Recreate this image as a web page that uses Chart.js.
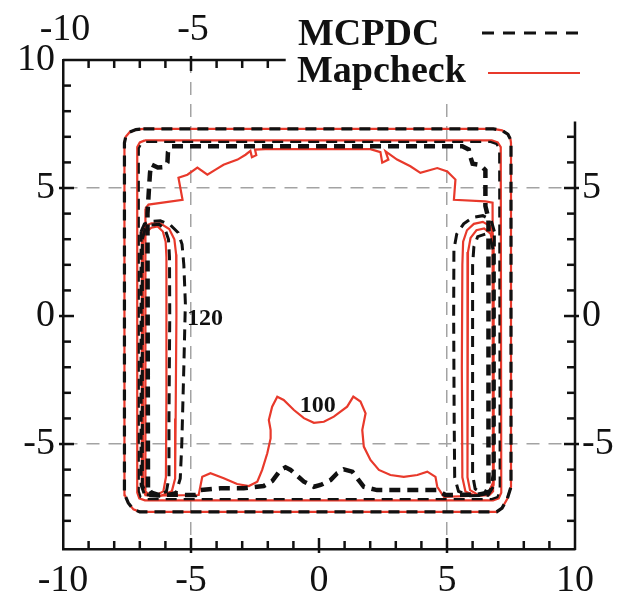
<!DOCTYPE html>
<html>
<head>
<meta charset="utf-8">
<title>MCPDC vs Mapcheck</title>
<script src="https://cdn.jsdelivr.net/npm/chart.js@4.4.1/dist/chart.umd.min.js"></script>
<style>
  html, body { margin: 0; padding: 0; background: #fff; }
  #wrap { width: 622px; height: 601px; }
</style>
</head>
<body>
<div id="wrap"><canvas id="chart" width="622" height="601"></canvas></div>
<script>
// ========== 1) data (x, y in cm) ==========
const xTicks = [-10, -5, 0, 5, 10];
const yTicks = [-5, 0, 5, 10];
const topTicks = [-10, -5];
const rightTicks = [-5, 0, 5];

// outer contour, both systems agree
const mapcheckOuter = [
  [-6.86, 7.31], [6.81, 7.31], [7.15, 7.25], [7.38, 7.1], [7.48, 6.9], [7.5, 6.76],
  [7.5, -6.67], [7.35, -7.15], [7.15, -7.5], [6.94, -7.65],
  [-7.0, -7.65], [-7.25, -7.55], [-7.45, -7.3], [-7.58, -7.0], [-7.6, -6.86],
  [-7.6, 6.76], [-7.55, 7.0], [-7.4, 7.18], [-7.15, 7.28], [-6.86, 7.31]
];
const mcpdcOuter = [
  [-6.86, 7.31], [6.81, 7.31], [7.15, 7.25], [7.38, 7.1], [7.48, 6.9], [7.5, 6.76],
  [7.5, -6.67], [7.35, -7.15], [7.15, -7.5], [6.94, -7.65],
  [-7.0, -7.65], [-7.25, -7.55], [-7.45, -7.3], [-7.58, -7.0], [-7.6, -6.86],
  [-7.6, 6.76], [-7.55, 7.0], [-7.4, 7.18], [-7.15, 7.28], [-6.86, 7.31]
];

// penumbra edge
const mapcheckEdge = [
  [-6.8, 6.86], [6.75, 6.86], [6.98, 6.78], [7.1, 6.6], [7.12, -6.9], [7.02, -7.12], [6.8, -7.2],
  [-6.8, -7.2], [-7.02, -7.12], [-7.1, -6.9], [-7.1, 6.6], [-7.0, 6.78], [-6.8, 6.86]
];
const mcpdcEdge = [
  [-6.75, 6.8], [6.7, 6.8], [6.93, 6.72], [7.04, 6.55], [7.06, -6.85], [6.97, -7.07], [6.75, -7.15],
  [-6.75, -7.15], [-6.97, -7.07], [-7.04, -6.85], [-7.04, 6.55], [-6.95, 6.72], [-6.75, 6.8]
];

// 100 contour
const mapcheck100 = [
  [-6.78, 4.2], [-6.66, 4.35], [-5.33, 4.54], [-5.49, 5.4], [-5.14, 5.52], [-4.75, 5.8], [-4.36, 5.52],
  [-4.04, 5.72], [-3.73, 5.91], [-3.18, 6.11], [-2.87, 6.3], [-2.68, 6.45], [-2.62, 6.2], [-2.45, 6.28],
  [-2.5, 6.5], [-2.1, 6.52], [2.01, 6.52], [2.4, 6.4], [2.47, 5.99], [2.71, 6.11], [2.6, 6.43],
  [3.05, 6.11], [3.57, 5.85], [3.96, 5.59], [4.62, 5.78], [5.01, 5.65], [5.33, 5.33], [5.27, 4.54],
  [6.5, 4.48], [6.78, 4.43], [6.8, -6.85], [6.65, -7.0], [4.88, -7.06], [4.62, -6.67], [4.55, -6.28],
  [4.23, -6.08], [3.84, -6.21], [3.31, -6.28], [2.79, -6.21], [2.34, -6.01], [2.01, -5.62], [1.75, -5.1],
  [1.69, -4.45], [1.82, -3.8], [1.62, -3.34], [1.34, -3.15], [1.1, -3.54], [0.58, -3.93], [0.19, -4.13],
  [-0.2, -4.17], [-0.59, -3.99], [-0.98, -3.67], [-1.38, -3.28], [-1.63, -3.15], [-1.83, -3.54],
  [-1.96, -4.06], [-1.89, -4.45], [-1.89, -4.78], [-2.02, -5.36], [-2.22, -6.01], [-2.41, -6.47],
  [-2.74, -6.64], [-3.2, -6.56], [-3.72, -6.34], [-4.24, -6.14], [-4.56, -6.28], [-4.7, -6.99],
  [-6.6, -7.02], [-6.78, -6.85], [-6.78, 4.2]
];
const mcpdc100 = [
  [-6.68, -6.7], [-6.7, 4.0], [-6.64, 5.0], [-6.6, 5.6], [-6.55, 5.92], [-6.3, 5.8], [-6.05, 5.82],
  [-5.92, 6.0], [-5.9, 6.4], [-5.75, 6.63], [5.6, 6.63], [5.85, 6.5], [5.92, 6.2], [6.0, 5.95],
  [6.3, 5.9], [6.5, 5.7], [6.5, 4.3], [6.62, 3.8], [6.62, -6.7], [6.5, -6.92], [6.2, -6.98],
  [4.94, -6.99], [4.62, -6.8], [3.31, -6.8], [2.27, -6.8], [1.75, -6.67], [1.55, -6.41], [1.3, -6.08],
  [0.97, -5.99], [0.71, -6.14], [0.45, -6.41], [0.06, -6.6], [-0.2, -6.67], [-0.59, -6.47],
  [-1.11, -6.01], [-1.31, -5.91], [-1.5, -6.01], [-1.82, -6.44], [-2.16, -6.64], [-2.94, -6.73],
  [-3.85, -6.73], [-4.63, -6.8], [-4.82, -6.99], [-6.3, -6.98], [-6.55, -6.9], [-6.68, -6.7]
];

// horns along the left and right edges (110 / 120)
const mapcheckHornL1 = [
  [-6.87, 2.9], [-6.75, 3.28], [-6.55, 3.45], [-6.3, 3.5], [-6.1, 3.3], [-5.99, 2.9], [-5.96, 2.3],
  [-5.95, 0], [-5.97, -3], [-5.98, -6.3], [-6.08, -6.85], [-6.4, -7.02], [-6.78, -6.95], [-6.87, -6.6], [-6.87, 2.9]
];
const mcpdcHornL1 = [
  [-6.9, 3.0], [-6.8, 3.38], [-6.55, 3.55], [-6.25, 3.58], [-6.02, 3.4], [-5.88, 3.0], [-5.84, 2.3],
  [-5.83, 0], [-5.86, -4], [-5.86, -6.3], [-5.96, -6.85], [-6.3, -7.02], [-6.75, -6.98], [-6.9, -6.6], [-6.9, 3.0]
];
const mapcheckHornL2 = [
  [-6.92, 3.2], [-6.82, 3.5], [-6.55, 3.62], [-6.2, 3.62], [-5.85, 3.4], [-5.65, 3.0], [-5.58, 2.4],
  [-5.57, 0], [-5.6, -4], [-5.62, -6.35], [-5.75, -6.85], [-6.2, -7.03], [-6.78, -7.0], [-6.92, -6.6], [-6.92, 3.2]
];
const mcpdcHornL2 = [
  [-6.95, 3.3], [-6.82, 3.6], [-6.55, 3.7], [-6.2, 3.72], [-5.8, 3.55], [-5.5, 3.25], [-5.35, 2.8],
  [-5.28, 2.0], [-5.22, 0.5], [-5.28, -2], [-5.36, -5], [-5.42, -6.35], [-5.58, -6.88], [-6.1, -7.04],
  [-6.8, -7.02], [-6.95, -6.6], [-6.95, 3.3]
];
const mcpdcHornR1 = [
  [6.8, 2.6], [6.7, 3.0], [6.5, 3.2], [6.2, 3.1], [6.05, 2.7], [6.0, 2.0], [6.0, -6.2], [6.1, -6.75],
  [6.4, -6.95], [6.7, -6.8], [6.8, -6.2], [6.8, 2.6]
];
const mapcheckHornR1 = [
  [6.8, 2.8], [6.7, 3.22], [6.45, 3.42], [6.15, 3.35], [5.92, 3.05], [5.82, 2.5], [5.8, 0], [5.8, -6.3],
  [5.9, -6.8], [6.2, -6.98], [6.6, -6.95], [6.8, -6.5], [6.8, 2.8]
];
const mapcheckHornR2 = [
  [6.82, 3.0], [6.7, 3.5], [6.4, 3.68], [6.05, 3.6], [5.78, 3.35], [5.63, 2.9], [5.6, 2.0], [5.58, -2],
  [5.6, -6.3], [5.72, -6.85], [6.1, -7.02], [6.6, -6.98], [6.82, -6.6], [6.82, 3.0]
];
const mcpdcHornR2 = [
  [6.85, 3.3], [6.72, 3.75], [6.4, 3.92], [6.0, 3.85], [5.65, 3.6], [5.38, 3.2], [5.27, 2.6], [5.26, 0],
  [5.28, -4], [5.3, -6.3], [5.45, -6.85], [5.9, -7.02], [6.6, -7.0], [6.85, -6.6], [6.85, 3.3]
];

// contour value labels
const labelText = ['120', '100'];
const labelX = [-4.45, -0.05];
const labelY = [-0.1, -3.5];

// ========== 2) styles ==========
const SERIF = '"Liberation Serif", "Times New Roman", serif';
const RED = '#e8392b';
const BLACK = '#111';
const DASH = [11, 7];

const toPoints = arr => arr.map(([x, y]) => ({ x, y }));

const redLine = (label, data) => ({
  label, data: toPoints(data), showLine: true, borderColor: RED, borderWidth: 2.2,
  pointRadius: 0, tension: 0, order: 1
});
const blackLine = (label, data, width) => ({
  label, data: toPoints(data), showLine: true, borderColor: BLACK, borderWidth: width || 3,
  borderDash: DASH, pointRadius: 0, tension: 0, order: 0
});

const datasets = [
  blackLine('MCPDC', mcpdcOuter, 3.2),
  blackLine('MCPDC', mcpdcEdge, 2.2),
  blackLine('MCPDC', mcpdc100, 4.5),
  blackLine('MCPDC', mcpdcHornL1),
  blackLine('MCPDC', mcpdcHornL2),
  blackLine('MCPDC', mcpdcHornR1),
  blackLine('MCPDC', mcpdcHornR2),
  redLine('Mapcheck', mapcheckOuter),
  redLine('Mapcheck', mapcheckEdge),
  redLine('Mapcheck', mapcheck100),
  redLine('Mapcheck', mapcheckHornL1),
  redLine('Mapcheck', mapcheckHornL2),
  redLine('Mapcheck', mapcheckHornR1),
  redLine('Mapcheck', mapcheckHornR2)
];

// ========== 3) frame: inner ticks, top / right axes, legend ==========
function stroke(ctx, x1, y1, x2, y2) {
  ctx.beginPath();
  ctx.moveTo(x1, y1);
  ctx.lineTo(x2, y2);
  ctx.stroke();
}

const framePlugin = {
  id: 'frame',
  afterDatasetsDraw(chart) {
    const { ctx, chartArea: a, scales: { x, y } } = chart;
    const top = y.getPixelForValue(10);
    ctx.save();
    ctx.strokeStyle = BLACK;
    ctx.lineWidth = 2.5;
    ctx.setLineDash([]);

    // top axis is cut off by the legend, right axis starts below it
    stroke(ctx, a.left, top, x.getPixelForValue(-1.3), top);
    stroke(ctx, a.right, y.getPixelForValue(7.6), a.right, a.bottom + 1);

    for (let v = -9; v <= 9; v++) {
      const px = x.getPixelForValue(v);
      const major = v % 5 === 0;
      stroke(ctx, px, a.bottom + (major ? 4 : 0), px, a.bottom - (major ? 11 : 8));
      if (v <= -2) stroke(ctx, px, top - (major ? 4 : 0), px, top + (major ? 11 : 8));
    }
    for (let v = -8; v <= 9; v++) {
      const py = y.getPixelForValue(v);
      const major = v % 5 === 0;
      stroke(ctx, a.left - (major ? 4 : 0), py, a.left + (major ? 11 : 8), py);
      if (v <= 7) stroke(ctx, a.right + (major ? 4 : 0), py, a.right - (major ? 11 : 8), py);
    }

    // contour labels
    ctx.fillStyle = BLACK;
    ctx.font = 'bold 24px ' + SERIF;
    ctx.textAlign = 'center';
    ctx.textBaseline = 'middle';
    labelText.forEach((t, i) => {
      ctx.fillText(t, x.getPixelForValue(labelX[i]), y.getPixelForValue(labelY[i]));
    });
    ctx.restore();
  },
  afterDraw(chart) {
    const { ctx, chartArea: a, scales: { x, y } } = chart;
    ctx.save();
    ctx.fillStyle = BLACK;
    ctx.font = '38px ' + SERIF;
    ctx.textBaseline = 'middle';

    // top tick labels
    ctx.textAlign = 'center';
    topTicks.forEach(v => ctx.fillText(String(v), x.getPixelForValue(v) + 2, 30));

    // right tick labels
    ctx.textAlign = 'left';
    rightTicks.forEach(v => ctx.fillText(String(v), a.right + 7, y.getPixelForValue(v)));

    // legend
    ctx.fillStyle = '#fff';
    ctx.fillRect(290, 0, 332, 104);
    ctx.fillStyle = BLACK;
    ctx.font = 'bold 38px ' + SERIF;
    ctx.fillText('MCPDC', 298, 35);
    ctx.fillText('Mapcheck', 297, 72);

    ctx.lineWidth = 3;
    ctx.strokeStyle = BLACK;
    ctx.setLineDash([12, 9]);
    stroke(ctx, 482, 33, 580, 33);
    ctx.setLineDash([]);
    ctx.lineWidth = 2.2;
    ctx.strokeStyle = RED;
    stroke(ctx, 488, 73, 580, 73);
    ctx.restore();
  }
};

// ========== 4) chart ==========
new Chart(document.getElementById('chart'), {
  type: 'scatter',
  data: { datasets },
  options: {
    responsive: false,
    animation: false,
    events: [],
    layout: { padding: { top: 60, right: 47, left: 0, bottom: 0 } },
    plugins: {
      legend: { display: false },
      tooltip: { enabled: false }
    },
    scales: {
      x: {
        type: 'linear',
        min: -10,
        max: 10,
        afterBuildTicks: s => { s.ticks = xTicks.map(value => ({ value })); },
        afterFit: s => { s.height = 52; },
        ticks: { font: { family: SERIF, size: 38 }, color: BLACK, padding: 9, maxRotation: 0, autoSkip: false,
                 callback: v => String(v) },
        grid: {
          color: c => (c.tick && Math.abs(c.tick.value) === 5) ? '#a3a3a3' : 'rgba(0,0,0,0)',
          lineWidth: 1.5,
          drawTicks: false
        },
        border: { display: true, color: BLACK, width: 2.5, dash: [13, 9] }
      },
      y: {
        type: 'linear',
        min: -9.1,
        max: 10,
        afterBuildTicks: s => { s.ticks = yTicks.map(value => ({ value })); },
        afterFit: s => { s.width = 63; },
        ticks: { font: { family: SERIF, size: 38 }, color: BLACK, padding: 8, autoSkip: false,
                 callback: v => String(v) },
        grid: {
          color: c => (c.tick && Math.abs(c.tick.value) === 5) ? '#a3a3a3' : 'rgba(0,0,0,0)',
          lineWidth: 1.5,
          drawTicks: false
        },
        border: { display: true, color: BLACK, width: 2.5, dash: [13, 9] }
      }
    }
  },
  plugins: [framePlugin]
});
</script>
</body>
</html>
